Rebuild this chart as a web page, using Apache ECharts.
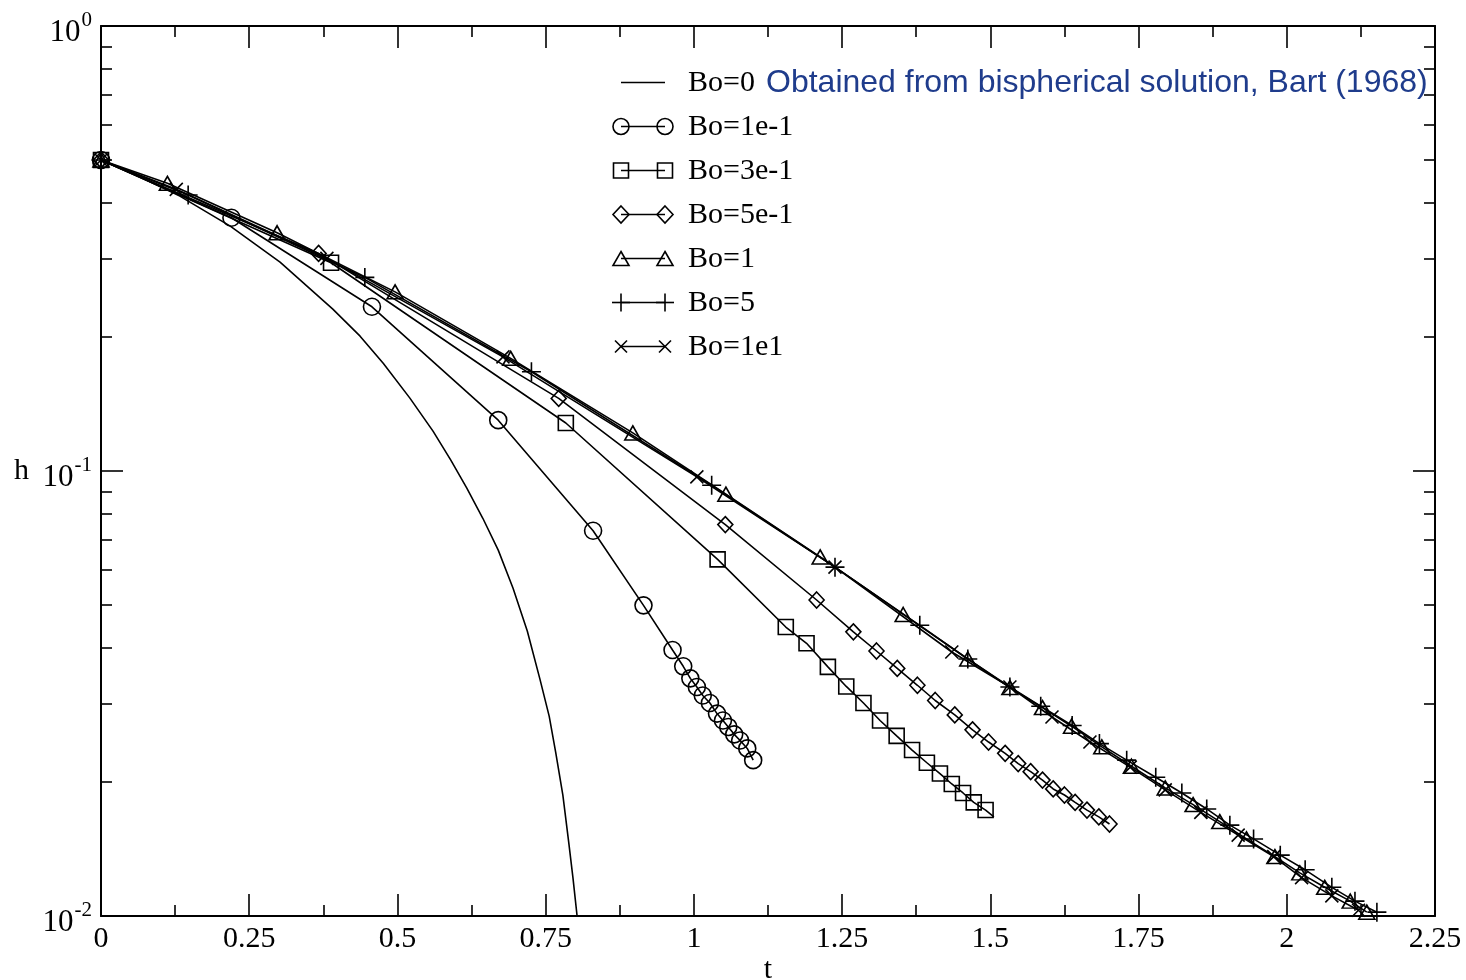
<!DOCTYPE html>
<html><head><meta charset="utf-8">
<script src="https://cdn.jsdelivr.net/npm/echarts@6/dist/echarts.min.js"></script>
<style>html,body{margin:0;padding:0;background:#fff}#c{width:1466px;height:980px}</style>
</head><body><div id="c"></div>
<script>
// ---------- data ----------
const xMin = 0, xMax = 2.25, xStep = 0.25;
const yMajorTicks = [0.01, 0.1, 1];
const yMinorTicks = [0.02,0.03,0.04,0.05,0.06,0.07,0.08,0.09,0.2,0.3,0.4,0.5,0.6,0.7,0.8,0.9];
const legendNames = ['Bo=0','Bo=1e-1','Bo=3e-1','Bo=5e-1','Bo=1','Bo=5','Bo=1e1'];
const bo0Note = 'Obtained from bispherical solution, Bart (1968)';
const xName = 't', yName = 'h';

// Bo=0 (bispherical solution, no markers)
const t_bo0 = [0, 0.066, 0.133, 0.218, 0.302, 0.391, 0.437, 0.476, 0.521, 0.560, 0.590, 0.617, 0.644, 0.670, 0.695, 0.719, 0.740, 0.756, 0.767, 0.779, 0.789, 0.796, 0.803];
const h_bo0 = [0.5, 0.4576, 0.4147, 0.3551, 0.2948, 0.2311, 0.2009, 0.1747, 0.1458, 0.1229, 0.1058, 0.0915, 0.0783, 0.0664, 0.0545, 0.0437, 0.0342, 0.0281, 0.0233, 0.0187, 0.0146, 0.0122, 0.0100];

// Bo=1e-1 (circles)
const t_bo01 = [0, 0.220, 0.457, 0.670, 0.830, 0.915, 0.964, 0.982, 0.994, 1.005, 1.015, 1.027, 1.039, 1.049, 1.058, 1.068, 1.078, 1.090, 1.100];
const h_bo01 = [0.5, 0.3707, 0.2339, 0.1301, 0.0734, 0.0499, 0.0396, 0.0364, 0.0342, 0.0327, 0.0313, 0.0301, 0.0285, 0.0275, 0.0266, 0.0256, 0.0248, 0.0238, 0.0224];

// Bo=3e-1 (squares)
const t_bo03 = [0, 0.388, 0.784, 1.040, 1.155, 1.190, 1.226, 1.257, 1.286, 1.314, 1.342, 1.368, 1.393, 1.415, 1.435, 1.454, 1.472, 1.492, 1.506];
const h_bo03 = [0.5, 0.2937, 0.1282, 0.0633, 0.0446, 0.0410, 0.0363, 0.0328, 0.0301, 0.0275, 0.0254, 0.0236, 0.0221, 0.0209, 0.0198, 0.0189, 0.0180, 0.0173, 0.0167];

// Bo=5e-1 (diamonds)
const t_bo05 = [0, 0.367, 0.772, 1.053, 1.207, 1.269, 1.308, 1.343, 1.377, 1.407, 1.440, 1.470, 1.497, 1.525, 1.547, 1.568, 1.588, 1.606, 1.625, 1.643, 1.663, 1.683, 1.701];
const h_bo05 = [0.5, 0.3083, 0.1456, 0.0758, 0.0513, 0.0435, 0.0394, 0.0360, 0.0330, 0.0305, 0.0283, 0.0262, 0.0246, 0.0232, 0.0220, 0.0211, 0.0202, 0.0193, 0.0187, 0.0180, 0.0173, 0.0167, 0.0161];

// Bo=1 (triangles)
const t_bo1 = [0, 0.112, 0.297, 0.496, 0.691, 0.897, 1.054, 1.213, 1.353, 1.462, 1.533, 1.588, 1.637, 1.688, 1.738, 1.795, 1.842, 1.887, 1.932, 1.980, 2.022, 2.064, 2.107, 2.135];
const h_bo1 = [0.5, 0.4430, 0.3430, 0.2527, 0.1791, 0.1218, 0.0887, 0.0641, 0.0476, 0.0378, 0.0326, 0.0294, 0.0267, 0.0240, 0.0217, 0.0194, 0.0178, 0.0163, 0.0149, 0.0136, 0.0125, 0.0116, 0.0108, 0.0102];

// Bo=5 (plus)
const t_bo5 = [0, 0.147, 0.445, 0.726, 1.030, 1.238, 1.381, 1.462, 1.533, 1.585, 1.638, 1.684, 1.730, 1.779, 1.823, 1.865, 1.904, 1.944, 1.989, 2.031, 2.076, 2.115, 2.152];
const h_bo5 = [0.5, 0.4170, 0.2723, 0.1671, 0.0929, 0.0608, 0.0450, 0.0378, 0.0327, 0.0296, 0.0268, 0.0244, 0.0224, 0.0205, 0.0189, 0.0174, 0.0160, 0.0149, 0.0137, 0.0127, 0.0116, 0.0108, 0.0102];

// Bo=1e1 (cross)
const t_bo10 = [0, 0.127, 0.381, 0.678, 1.005, 1.238, 1.435, 1.533, 1.604, 1.668, 1.736, 1.795, 1.855, 1.918, 1.978, 2.025, 2.076, 2.121];
const h_bo10 = [0.5, 0.4295, 0.3004, 0.1805, 0.0970, 0.0608, 0.0392, 0.0327, 0.0280, 0.0246, 0.0216, 0.0192, 0.0171, 0.0152, 0.0136, 0.0122, 0.0111, 0.0103];

// ---------- chart ----------
const SERIF = '"Liberation Serif","Times New Roman",serif';
const PLUS = 'path://M0,10L20,10M10,0L10,20';
const CROSS = 'path://M0,0L20,20M20,0L0,20';
const GRID = {left: 101, right: 31, top: 26, bottom: 64, containLabel: false, outerBoundsMode: 'none'};

function pairs(t, h) { return t.map((v, i) => [v, h[i]]); }

function mkSeries(name, t, h, symbol, size) {
  return {
    name, type: 'line', xAxisIndex: 0, yAxisIndex: 0,
    data: pairs(t, h),
    symbol, symbolSize: size, showAllSymbol: true,
    smooth: false,
    lineStyle: {color: '#000', width: 1.6},
    itemStyle: {color: 'rgba(0,0,0,0)', borderColor: '#000', borderWidth: 1.6},
    emphasis: {disabled: true}, animation: false
  };
}

const sq = mkSeries(legendNames[2], t_bo03, h_bo03, 'rect', 15);
sq.data[sq.data.length - 1] = {value: sq.data[sq.data.length - 1], symbol: 'none'};

const series = [
  mkSeries(legendNames[0], t_bo0, h_bo0, 'none', 0),
  mkSeries(legendNames[1], t_bo01, h_bo01, 'circle', 17),
  sq,
  mkSeries(legendNames[3], t_bo05, h_bo05, 'diamond', [15, 16]),
  mkSeries(legendNames[4], t_bo1, h_bo1, 'triangle', [16, 14]),
  mkSeries(legendNames[5], t_bo5, h_bo5, PLUS, 19),
  mkSeries(legendNames[6], t_bo10, h_bo10, CROSS, 13)
];

// legend drawn as graphic
const LX0 = 621, LX1 = 665, LY0 = 82.5, LDY = 44, LTX = 688;
const stroke = {fill: 'none', stroke: '#000', lineWidth: 1.6};
function legendSym(kind, cx, cy) {
  switch (kind) {
    case 'circle': return [{type: 'circle', shape: {cx, cy, r: 8}, style: stroke}];
    case 'rect': return [{type: 'rect', shape: {x: cx - 7.5, y: cy - 7.5, width: 15, height: 15}, style: stroke}];
    case 'diamond': return [{type: 'polygon', shape: {points: [[cx, cy - 8.5], [cx + 8, cy], [cx, cy + 8.5], [cx - 8, cy]]}, style: stroke}];
    case 'triangle': return [{type: 'polygon', shape: {points: [[cx, cy - 7], [cx + 8, cy + 7], [cx - 8, cy + 7]]}, style: stroke}];
    case 'plus': return [{type: 'line', shape: {x1: cx - 9, y1: cy, x2: cx + 9, y2: cy}, style: stroke},
                         {type: 'line', shape: {x1: cx, y1: cy - 9, x2: cx, y2: cy + 9}, style: stroke}];
    case 'cross': return [{type: 'line', shape: {x1: cx - 6, y1: cy - 6, x2: cx + 6, y2: cy + 6}, style: stroke},
                          {type: 'line', shape: {x1: cx + 6, y1: cy - 6, x2: cx - 6, y2: cy + 6}, style: stroke}];
  }
  return [];
}
const legendKinds = ['none', 'circle', 'rect', 'diamond', 'triangle', 'plus', 'cross'];
const graphic = [];
legendNames.forEach((nm, i) => {
  const y = LY0 + i * LDY;
  graphic.push({type: 'line', shape: {x1: LX0, y1: y, x2: LX1, y2: y}, style: {stroke: '#000', lineWidth: 1.6}});
  legendSym(legendKinds[i], LX0, y).forEach(g => graphic.push(g));
  legendSym(legendKinds[i], LX1, y).forEach(g => graphic.push(g));
  graphic.push({type: 'text', x: LTX, y: y + 1, style: {text: nm, font: '30px ' + SERIF, fill: '#000', verticalAlign: 'middle'}});
});
graphic.push({type: 'text', x: 766, y: 83, style: {text: bo0Note, font: '32px "Liberation Sans", Arial, sans-serif', fill: '#1f3c8c', verticalAlign: 'middle'}});

const tickLine = {color: '#000', width: 1.6};
const axisLineStyle = {color: '#000', width: 2};

function fmtPow(v) {
  const e = Math.round(Math.log10(v));
  return '{b|10}{s|' + e + '}';
}

const option = {
  animation: false,
  backgroundColor: '#fff',
  grid: [Object.assign({}, GRID), Object.assign({}, GRID)],
  xAxis: [
    {gridIndex: 0, type: 'value', position: 'bottom', min: xMin, max: xMax, interval: xStep,
     name: xName, nameLocation: 'middle', nameGap: 39, nameMoveOverlap: false,
     nameTextStyle: {fontFamily: SERIF, fontSize: 30, color: '#000'},
     axisLine: {show: true, onZero: false, lineStyle: axisLineStyle},
     axisTick: {show: true, inside: true, length: 22, lineStyle: tickLine},
     minorTick: {show: true, splitNumber: 2, length: 11, lineStyle: tickLine},
     axisLabel: {show: true, margin: 8, fontFamily: SERIF, fontSize: 30, color: '#000'},
     splitLine: {show: false}, minorSplitLine: {show: false}},
    {gridIndex: 1, type: 'value', position: 'top', min: xMin, max: xMax, interval: xStep,
     axisLine: {show: true, onZero: false, lineStyle: axisLineStyle},
     axisTick: {show: true, inside: true, length: 22, lineStyle: tickLine},
     minorTick: {show: true, splitNumber: 2, length: 11, lineStyle: tickLine},
     axisLabel: {show: false}, splitLine: {show: false}}
  ],
  yAxis: [
    {gridIndex: 0, type: 'log', logBase: 10, position: 'left', min: 0.01, max: 1,
     name: yName, nameLocation: 'middle', nameGap: 72, nameRotate: 0, nameMoveOverlap: false,
     nameTextStyle: {fontFamily: SERIF, fontSize: 30, color: '#000'},
     axisLine: {show: true, lineStyle: axisLineStyle},
     axisTick: {show: true, inside: true, length: 22, lineStyle: tickLine, customValues: yMajorTicks},
     axisLabel: {show: true, margin: 9, customValues: yMajorTicks, formatter: fmtPow,
       rich: {b: {fontFamily: SERIF, fontSize: 31, color: '#000', padding: [14, 0, 0, 0]},
              s: {fontFamily: SERIF, fontSize: 21, color: '#000', verticalAlign: 'top', padding: [6, 0, 0, 1]}}},
     splitLine: {show: false}},
    {gridIndex: 0, type: 'log', logBase: 10, position: 'right', min: 0.01, max: 1,
     axisLine: {show: true, lineStyle: axisLineStyle},
     axisTick: {show: true, inside: true, length: 22, lineStyle: tickLine, customValues: yMajorTicks},
     axisLabel: {show: false}, splitLine: {show: false}},
    {gridIndex: 1, type: 'log', logBase: 10, position: 'left', min: 0.01, max: 1,
     axisLine: {show: false},
     axisTick: {show: true, inside: true, length: 11, lineStyle: tickLine, customValues: yMinorTicks},
     axisLabel: {show: false}, splitLine: {show: false}},
    {gridIndex: 1, type: 'log', logBase: 10, position: 'right', min: 0.01, max: 1,
     axisLine: {show: false},
     axisTick: {show: true, inside: true, length: 11, lineStyle: tickLine, customValues: yMinorTicks},
     axisLabel: {show: false}, splitLine: {show: false}}
  ],
  series,
  graphic
};

const chart = echarts.init(document.getElementById('c'), null, {renderer: 'canvas'});
chart.setOption(option);
</script>
</body></html>
